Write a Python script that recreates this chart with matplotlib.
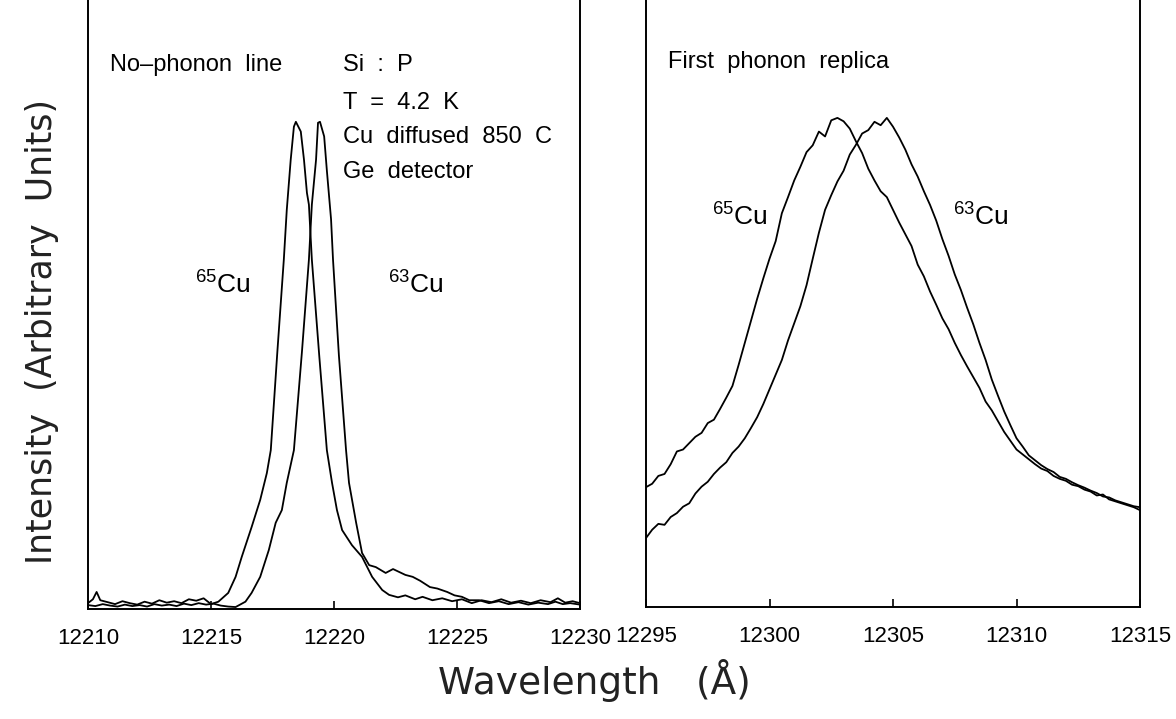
import numpy as np
import matplotlib.pyplot as plt

plt.rcParams['mathtext.fontset'] = 'custom'
plt.rcParams['mathtext.rm'] = 'Liberation Sans'

# No-phonon line (normalised intensity)
wl_np_65 = [12210.0, 12210.2, 12210.35, 12210.5, 12210.8, 12211.1, 12211.4, 12211.7, 12212.0,
            12212.3, 12212.6, 12212.9, 12213.2, 12213.5, 12213.8, 12214.1, 12214.4, 12214.7,
            12215.0, 12215.3, 12215.7, 12216.0, 12216.25, 12216.65, 12217.0, 12217.27, 12217.43,
            12217.7, 12217.96, 12218.08, 12218.24, 12218.37, 12218.45, 12218.65, 12218.78,
            12218.9, 12218.98, 12219.1, 12219.4, 12219.71, 12219.92, 12220.12, 12220.33,
            12220.73, 12221.14, 12221.55, 12221.96, 12222.24, 12222.6, 12222.9, 12223.3,
            12223.6, 12224.0, 12224.4, 12224.8, 12225.2, 12225.6, 12226.0, 12226.4, 12226.8,
            12227.2, 12227.6, 12228.0, 12228.4, 12228.8, 12229.1, 12229.4, 12229.7, 12230.0]
int_np_65 = [0.012, 0.020, 0.035, 0.018, 0.014, 0.010, 0.016, 0.012, 0.009,
             0.015, 0.011, 0.018, 0.013, 0.016, 0.012, 0.020, 0.017, 0.022,
             0.010, 0.015, 0.033, 0.066, 0.107, 0.168, 0.224, 0.279, 0.326,
             0.530, 0.717, 0.819, 0.922, 0.990, 1.000, 0.980, 0.922,
             0.854, 0.830, 0.717, 0.520, 0.326, 0.259, 0.203, 0.162,
             0.131, 0.107, 0.066, 0.039, 0.029, 0.024, 0.028, 0.020,
             0.025, 0.018, 0.022, 0.016, 0.020, 0.012, 0.018, 0.014, 0.020,
             0.013, 0.017, 0.012, 0.018, 0.014, 0.022, 0.013, 0.016, 0.012]

wl_np_63 = [12210.0, 12210.3, 12210.6, 12210.9, 12211.2, 12211.5, 12211.8, 12212.1, 12212.4,
            12212.7, 12213.0, 12213.3, 12213.6, 12213.9, 12214.2, 12214.5, 12214.8, 12215.1,
            12215.4, 12215.7, 12216.0, 12216.4, 12216.65, 12217.0, 12217.35, 12217.63, 12217.88,
            12218.08, 12218.37, 12218.7, 12218.98, 12219.1, 12219.27, 12219.35, 12219.43,
            12219.6, 12219.71, 12219.88, 12219.96, 12220.2, 12220.49, 12220.61, 12220.9,
            12221.14, 12221.43, 12221.7, 12221.9, 12222.1, 12222.4, 12222.65, 12222.9, 12223.2,
            12223.5, 12223.9, 12224.2, 12224.6, 12224.9, 12225.2, 12225.5, 12225.9, 12226.3,
            12226.7, 12227.1, 12227.5, 12227.9, 12228.3, 12228.7, 12229.0, 12229.3, 12229.6,
            12230.0]
int_np_63 = [0.008, 0.006, 0.010, 0.007, 0.005, 0.009, 0.006, 0.008, 0.005,
             0.010, 0.007, 0.009, 0.006, 0.011, 0.008, 0.012, 0.009, 0.011,
             0.007, 0.005, 0.004, 0.015, 0.033, 0.066, 0.121, 0.177, 0.203,
             0.259, 0.326, 0.530, 0.717, 0.830, 0.922, 0.998, 1.000,
             0.970, 0.900, 0.800, 0.717, 0.520, 0.326, 0.259, 0.177,
             0.115, 0.090, 0.086, 0.080, 0.074, 0.082, 0.076, 0.070, 0.066,
             0.058, 0.045, 0.042, 0.035, 0.028, 0.025, 0.018, 0.018, 0.012,
             0.016, 0.010, 0.014, 0.009, 0.013, 0.010, 0.015, 0.010, 0.012,
             0.009]

# First phonon replica (normalised intensity)
wl_rep_65 = [12295.0, 12295.25, 12295.5, 12295.75, 12296.0, 12296.25, 12296.5, 12296.75,
             12297.0, 12297.25, 12297.5, 12297.75, 12298.0, 12298.25, 12298.5, 12298.75,
             12299.0, 12299.25, 12299.5, 12299.75, 12300.0, 12300.25, 12300.5, 12300.75,
             12301.0, 12301.25, 12301.5, 12301.75, 12302.0, 12302.25, 12302.5, 12302.75,
             12303.0, 12303.25, 12303.5, 12303.75, 12304.0, 12304.25, 12304.5, 12304.75,
             12305.0, 12305.25, 12305.5, 12305.75, 12306.0, 12306.25, 12306.5, 12306.75,
             12307.0, 12307.25, 12307.5, 12307.75, 12308.0, 12308.25, 12308.5, 12308.75,
             12309.0, 12309.25, 12309.5, 12309.75, 12310.0, 12310.25, 12310.5, 12310.75,
             12311.0, 12311.25, 12311.5, 12311.75, 12312.0, 12312.25, 12312.5, 12312.75,
             12313.0, 12313.25, 12313.5, 12313.75, 12314.0, 12314.25, 12314.5, 12314.75,
             12315.0]
int_rep_65 = [0.245, 0.252, 0.268, 0.272, 0.292, 0.318, 0.322, 0.335,
              0.348, 0.356, 0.376, 0.383, 0.405, 0.428, 0.452, 0.495,
              0.540, 0.585, 0.630, 0.672, 0.712, 0.748, 0.805, 0.838,
              0.872, 0.900, 0.930, 0.944, 0.972, 0.962, 0.995, 1.000,
              0.993, 0.978, 0.952, 0.928, 0.896, 0.872, 0.850, 0.838,
              0.812, 0.786, 0.762, 0.738, 0.700, 0.676, 0.645, 0.618,
              0.590, 0.568, 0.540, 0.515, 0.492, 0.470, 0.448, 0.420,
              0.402, 0.380, 0.358, 0.340, 0.322, 0.312, 0.302, 0.292,
              0.283, 0.278, 0.268, 0.262, 0.258, 0.250, 0.247, 0.240,
              0.236, 0.228, 0.230, 0.220, 0.216, 0.212, 0.208, 0.204,
              0.198]

wl_rep_63 = [12295.0, 12295.25, 12295.5, 12295.75, 12296.0, 12296.25, 12296.5, 12296.75,
             12297.0, 12297.25, 12297.5, 12297.75, 12298.0, 12298.25, 12298.5, 12298.75,
             12299.0, 12299.25, 12299.5, 12299.75, 12300.0, 12300.25, 12300.5, 12300.75,
             12301.0, 12301.25, 12301.5, 12301.75, 12302.0, 12302.25, 12302.5, 12302.75,
             12303.0, 12303.25, 12303.5, 12303.75, 12304.0, 12304.25, 12304.5, 12304.75,
             12305.0, 12305.25, 12305.5, 12305.75, 12306.0, 12306.25, 12306.5, 12306.75,
             12307.0, 12307.25, 12307.5, 12307.75, 12308.0, 12308.25, 12308.5, 12308.75,
             12309.0, 12309.25, 12309.5, 12309.75, 12310.0, 12310.25, 12310.5, 12310.75,
             12311.0, 12311.25, 12311.5, 12311.75, 12312.0, 12312.25, 12312.5, 12312.75,
             12313.0, 12313.25, 12313.5, 12313.75, 12314.0, 12314.25, 12314.5, 12314.75,
             12315.0]
int_rep_63 = [0.141, 0.158, 0.170, 0.168, 0.184, 0.192, 0.205, 0.212,
              0.232, 0.246, 0.256, 0.272, 0.285, 0.296, 0.315, 0.328,
              0.345, 0.366, 0.388, 0.415, 0.445, 0.475, 0.505, 0.545,
              0.580, 0.615, 0.658, 0.712, 0.765, 0.812, 0.842, 0.870,
              0.892, 0.925, 0.945, 0.968, 0.975, 0.992, 0.985, 1.000,
              0.982, 0.960, 0.935, 0.905, 0.880, 0.850, 0.822, 0.790,
              0.752, 0.718, 0.680, 0.648, 0.612, 0.578, 0.540, 0.505,
              0.465, 0.432, 0.400, 0.372, 0.345, 0.328, 0.310, 0.300,
              0.290, 0.282, 0.276, 0.266, 0.262, 0.255, 0.249, 0.244,
              0.238, 0.233, 0.226, 0.224, 0.218, 0.214, 0.210, 0.206,
              0.204]

ticks_np = [12210, 12215, 12220, 12225, 12230]
ticks_rep = [12295, 12300, 12305, 12310, 12315]

W, H = 1176, 719
fig = plt.figure(figsize=(W / 100, H / 100), dpi=100)

def box(x0, x1, ybot):
    return [x0 / W, (H - ybot) / H, (x1 - x0) / W, ybot / H]

ax1 = fig.add_axes(box(88, 580, 609))
ax2 = fig.add_axes(box(646, 1140, 607))

ax1.plot(wl_np_65, int_np_65, color='black', lw=1.3)
ax1.plot(wl_np_63, int_np_63, color='black', lw=1.3)
ax2.plot(wl_rep_65, int_rep_65, color='black', lw=1.3)
ax2.plot(wl_rep_63, int_rep_63, color='black', lw=1.3)

ax1.set_xlim(12210, 12230)
ax1.set_ylim(0, 1.25)
ax2.set_xlim(12295, 12315)
ax2.set_ylim(0, 1.241)
ax1.set_xticks(ticks_np)
ax2.set_xticks(ticks_rep)

for ax in (ax1, ax2):
    ax.set_yticks([])
    ax.spines['top'].set_visible(False)
    for s in ('left', 'right', 'bottom'):
        ax.spines[s].set_linewidth(1.4)
    ax.tick_params(axis='x', direction='in', length=6, width=1.2, pad=14)
    for lab in ax.get_xticklabels():
        lab.set_fontfamily('Liberation Sans')
        lab.set_fontsize(16)

def ftext(x, y, s, **kw):
    fig.text(x / W, 1 - y / H, s, va='center', **kw)

note = dict(family='Liberation Sans', fontsize=17)
ftext(110, 65, 'No\u2013phonon  line', **note)
ftext(343, 65, 'Si  :  P', **note)
ftext(343, 103, 'T  =  4.2  K', **note)
ftext(343, 137, 'Cu  diffused  850  C', **note)
ftext(343, 172, 'Ge  detector', **note)
ftext(668, 62, 'First  phonon  replica', **note)

iso = dict(family='Liberation Sans', fontsize=19)
ftext(195, 285, r'$\mathregular{^{65}}$Cu', **iso)
ftext(388, 285, r'$\mathregular{^{63}}$Cu', **iso)
ftext(712, 217, r'$\mathregular{^{65}}$Cu', **iso)
ftext(953, 217, r'$\mathregular{^{63}}$Cu', **iso)

fig.text(42 / W, 1 - 331 / H, 'Intensity  (Arbitrary  Units)', rotation=90,
         ha='center', va='center', fontsize=25, color='#222222')
fig.text(594 / W, 1 - 680 / H, 'Wavelength   (\u00c5)', ha='center', va='center',
         fontsize=27, color='#222222')

fig.savefig('out.png', dpi=100)
